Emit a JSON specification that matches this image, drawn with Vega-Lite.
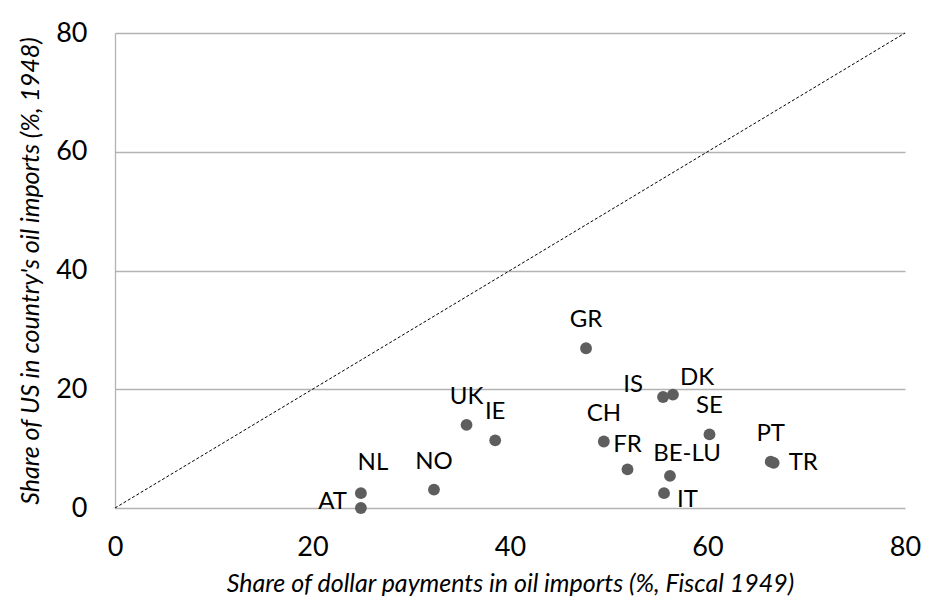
{
  "$schema": "https://vega.github.io/schema/vega-lite/v6.json",
  "width": 790,
  "height": 475,
  "autosize": "none",
  "padding": {"left": 115, "top": 33, "right": 25, "bottom": 99},
  "background": "white",
  "config": {
    "view": {"stroke": null},
    "font": "Lato",
    "axis": {"labelFont": "Lato", "titleFont": "Lato"}
  },
  "datasets": {
    "pts": [
      {"country": "GR", "dollar": 47.7, "us": 26.9},
      {"country": "UK", "dollar": 35.6, "us": 14.0},
      {"country": "IE", "dollar": 38.5, "us": 11.4},
      {"country": "CH", "dollar": 49.5, "us": 11.2},
      {"country": "FR", "dollar": 51.9, "us": 6.5},
      {"country": "NO", "dollar": 32.3, "us": 3.1},
      {"country": "NL", "dollar": 24.9, "us": 2.5},
      {"country": "AT", "dollar": 24.9, "us": 0.0},
      {"country": "IS", "dollar": 55.5, "us": 18.7},
      {"country": "DK", "dollar": 56.5, "us": 19.1},
      {"country": "SE", "dollar": 60.2, "us": 12.4},
      {"country": "BE-LU", "dollar": 56.2, "us": 5.4},
      {"country": "IT", "dollar": 55.6, "us": 2.5},
      {"country": "PT", "dollar": 66.4, "us": 7.8},
      {"country": "TR", "dollar": 66.7, "us": 7.6}
    ],
    "diag": [
      {"dollar": 0, "us": 0},
      {"dollar": 80, "us": 80}
    ]
  },
  "encoding": {
    "x": {
      "field": "dollar", "type": "quantitative",
      "scale": {"domain": [0, 80], "nice": false, "zero": true},
      "axis": {
        "title": "Share of dollar payments in oil imports (%, Fiscal 1949)",
        "values": [0, 20, 40, 60, 80],
        "grid": false, "domain": false, "ticks": false, "tickSize": 0,
        "labelFontSize": 27, "labelColor": "#000000", "labelPadding": 26,
        "labelFlush": false,
        "titleFontSize": 25, "titleFontStyle": "italic", "titleFontWeight": "normal",
        "titleColor": "#000000", "titlePadding": 11
      }
    },
    "y": {
      "field": "us", "type": "quantitative",
      "scale": {"domain": [0, 80], "nice": false, "zero": true},
      "axis": {
        "title": "Share of US in country's oil imports (%, 1948)",
        "values": [0, 20, 40, 60, 80],
        "grid": true, "gridColor": "#b3b3b3", "gridWidth": 1.3,
        "domain": true, "domainColor": "#b3b3b3", "domainWidth": 1.3,
        "ticks": false, "tickSize": 0,
        "labelFontSize": 27, "labelColor": "#000000", "labelPadding": 28,
        "labelFlush": false,
        "titleFontSize": 25, "titleFontStyle": "italic", "titleFontWeight": "normal",
        "titleColor": "#000000", "titlePadding": 12
      }
    }
  },
  "layer": [
    {
      "data": {"name": "diag"},
      "mark": {"type": "line", "color": "#000000", "strokeWidth": 1, "strokeDash": [3, 2]},
      "encoding": {}
    },
    {
      "data": {"name": "pts"},
      "mark": {"type": "circle", "size": 140, "color": "#5e5e5e", "opacity": 1},
      "encoding": {}
    },
    {
      "data": {"name": "pts"},
      "transform": [{"filter": {"field": "country", "oneOf": ["GR", "UK", "IE", "CH", "NO", "SE", "PT"]}}],
      "mark": {"type": "text", "fontSize": 24, "color": "#000000", "align": "center", "baseline": "middle", "dy": -28},
      "encoding": {"text": {"field": "country"}}
    },
    {
      "data": {"name": "pts"},
      "transform": [{"filter": {"field": "country", "equal": "FR"}}],
      "mark": {"type": "text", "fontSize": 24, "color": "#000000", "align": "center", "baseline": "middle", "dy": -24},
      "encoding": {"text": {"field": "country"}}
    },
    {
      "data": {"name": "pts"},
      "transform": [{"filter": {"field": "country", "equal": "NL"}}],
      "mark": {"type": "text", "fontSize": 24, "color": "#000000", "align": "center", "baseline": "middle", "dx": 12, "dy": -30},
      "encoding": {"text": {"field": "country"}}
    },
    {
      "data": {"name": "pts"},
      "transform": [{"filter": {"field": "country", "equal": "AT"}}],
      "mark": {"type": "text", "fontSize": 24, "color": "#000000", "align": "right", "baseline": "middle", "dx": -14, "dy": -6},
      "encoding": {"text": {"field": "country"}}
    },
    {
      "data": {"name": "pts"},
      "transform": [{"filter": {"field": "country", "equal": "IS"}}],
      "mark": {"type": "text", "fontSize": 24, "color": "#000000", "align": "right", "baseline": "middle", "dx": -20, "dy": -12},
      "encoding": {"text": {"field": "country"}}
    },
    {
      "data": {"name": "pts"},
      "transform": [{"filter": {"field": "country", "equal": "DK"}}],
      "mark": {"type": "text", "fontSize": 24, "color": "#000000", "align": "left", "baseline": "middle", "dx": 7, "dy": -17},
      "encoding": {"text": {"field": "country"}}
    },
    {
      "data": {"name": "pts"},
      "transform": [{"filter": {"field": "country", "equal": "BE-LU"}}],
      "mark": {"type": "text", "fontSize": 24, "color": "#000000", "align": "center", "baseline": "middle", "dx": 17, "dy": -22},
      "encoding": {"text": {"field": "country"}}
    },
    {
      "data": {"name": "pts"},
      "transform": [{"filter": {"field": "country", "equal": "IT"}}],
      "mark": {"type": "text", "fontSize": 24, "color": "#000000", "align": "left", "baseline": "middle", "dx": 13, "dy": 7},
      "encoding": {"text": {"field": "country"}}
    },
    {
      "data": {"name": "pts"},
      "transform": [{"filter": {"field": "country", "equal": "TR"}}],
      "mark": {"type": "text", "fontSize": 24, "color": "#000000", "align": "left", "baseline": "middle", "dx": 15, "dy": 0},
      "encoding": {"text": {"field": "country"}}
    }
  ]
}
